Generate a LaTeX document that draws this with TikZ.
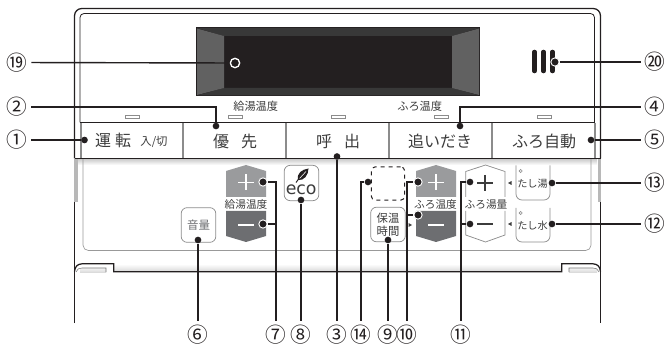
\documentclass[tikz,border=0pt]{standalone}
\usepackage{fontspec}
\newfontfamily\cjk{Noto Sans CJK JP}
\newfontfamily\ecofont{DejaVu Sans}
\usetikzlibrary{arrows.meta}
\definecolor{inkc}{HTML}{231F20}
\definecolor{textc}{HTML}{3C3C3C}
\definecolor{keyg}{HTML}{9A9B9D}
\definecolor{keyd}{HTML}{6D6E71}
\definecolor{edge}{HTML}{8C8C8C}
\tikzset{
  call/.style={inner sep=0pt,font=\cjk\fontsize{15.5pt}{15.5pt}\selectfont,text=inkc,circle,minimum size=12pt},
  wire/.style={draw=inkc,line width=1.05pt},
  blob/.style={circle,fill=inkc,inner sep=0pt,minimum size=5pt},
  ring/.style={circle,fill=inkc,draw=white,line width=0.7pt,inner sep=0pt,minimum size=6.2pt},
  openring/.style={circle,fill=inkc,draw=white,line width=1pt,inner sep=0pt,minimum size=7pt},
  mainkey/.style={inner sep=0pt,text=textc,font=\cjk\fontsize{12pt}{12pt}\selectfont},
  tiny/.style={inner sep=0pt,text=textc,font=\cjk\fontsize{8.4pt}{8.5pt}\selectfont},
  small/.style={inner sep=0pt,text=textc,font=\cjk\fontsize{8pt}{8.5pt}\selectfont},
  softkey/.style={draw=edge,line width=0.55pt,rounded corners=4.5pt,fill=white},
  led/.style={draw=edge,line width=0.5pt,fill=white},
  sep/.style={draw=edge,line width=1pt},
  body/.style={draw=inkc,line width=0.95pt},
  thinbody/.style={draw=inkc,line width=0.6pt},
}
\begin{document}
\begin{tikzpicture}[x=0.75pt,y=-0.75pt]
\useasboundingbox (0,0) rectangle (667,345);
% shaded bands
\shade[top color=black!22,bottom color=white] (78,158.5) rectangle (597,165);
\shade[top color=white,bottom color=black!14] (114,264) rectangle (562,271);
\shade[top color=black!4,bottom color=black!14] (80,268) rectangle (106,272);
\shade[top color=black!4,bottom color=black!14] (569,268) rectangle (597,272);
% lower panel
\draw[draw=black!40,line width=0.5pt,rounded corners=4pt] (83,158.5) -- (83,250.5) -- (591,250.5) -- (591,158.5);
% outer case
\draw[body] (74.5,323) -- (74.5,202);
\draw[body,rounded corners=5.5pt] (74.5,158.5) -- (74.5,8.5) -- (600.5,8.5) -- (600.5,158.5);
\draw[body] (600.5,202) -- (600.5,323);
\fill[black!28] (74,159) rectangle (78,202);
\fill[black!28] (597.5,159) rectangle (601,202);
\draw[thinbody,rounded corners=3pt] (80,122.5) -- (80,13.5) -- (594.5,13.5) -- (594.5,158);
\draw[thinbody] (80,122.5) -- (595,122.5);
\draw[body] (74.5,158.5) -- (600.5,158.5);
% hinges and lower edge
\draw[body] (74.5,271.5) .. controls (75,267) and (77,264) .. (82,263.8) -- (113.7,263.8) -- (113.7,271.7) -- (561.7,271.7) -- (561.7,263.8) -- (593,263.8) .. controls (598,264) and (600,267) .. (600.5,271.5);
\draw[draw=black!55,line width=0.4pt] (76,272) .. controls (77,269) and (79,268) .. (82,268) -- (106,268) -- (106,272);
\draw[draw=black!55,line width=0.4pt] (569,272) -- (569,268) -- (593,268) .. controls (596,268) and (598,269) .. (599,272);
% button separators
\foreach \x in {81,183,286,389,492,595}{\draw[sep] (\x,123) -- (\x,158);}
% display
\fill[inkc] (195.7,27) rectangle (480.3,96.5);
\fill[black!78] (197,28) -- (479,28) -- (452,36) -- (224,36) -- cycle;
\fill[black!78] (197,95.5) -- (479,95.5) -- (452,88) -- (224,88) -- cycle;
\fill[black!62] (197,28.5) -- (224,36) -- (224,88) -- (197,95) -- cycle;
\fill[black!62] (479,28.5) -- (452,36) -- (452,88) -- (479,95) -- cycle;
% speaker
\foreach \x in {534.5,543.5,552.5}{\draw[inkc,line width=3.4pt,line cap=round] (\x,52) -- (\x,71);}
% LEDs
\foreach \x in {125,228,331,434,537}{\draw[led] (\x,115.3) rectangle ++(14,3.2);}
\node[tiny] (tkyu) at (255.7,106) {給湯温度};
\node[tiny] (tfuro) at (419.7,106) {ふろ温度};
% main keys
\node[mainkey] (kunten) at (113,140.5) {運\hspace{3pt}転};
\node[inner sep=0pt,text=textc,font=\cjk\fontsize{8.5pt}{9pt}\selectfont] (knyu) at (154,141.5) {入/切};
\node[mainkey] (kyusen) at (235,141) {優\hspace{9pt}先};
\node[mainkey] (kyobi) at (338,141) {呼\hspace{9pt}出};
\node[mainkey] (koi) at (440,141) {追いだき};
\node[mainkey] (kauto) at (544,141) {ふろ自動};
% temperature keys
\fill[keyg] (226,171) -- (246,165) -- (266,171) -- (266,197) -- (226,197) -- cycle;
\fill[keyd] (226,211) -- (266,211) -- (266,236) -- (246,242) -- (226,236) -- cycle;
\fill[keyg] (416,171) -- (436,165) -- (456,171) -- (456,197) -- (416,197) -- cycle;
\fill[keyd] (416,211) -- (456,211) -- (456,236) -- (436,242) -- (416,236) -- cycle;
\foreach \x in {246,436}{
  \draw[white,line width=1.1pt] (\x-8,182.5) -- (\x+8,182.5) (\x,174.5) -- (\x,190.5);
  \draw[white,line width=1.1pt] (\x-8,225) -- (\x+8,225);
}
\node[small] (lkyu) at (246,204) {給湯温度};
\node[small] (lfuro) at (435.5,204) {ふろ温度};
\node[small] (lyu) at (486,204) {ふろ湯量};
% outlined volume keys
\draw[draw=edge,line width=0.55pt] (465.7,197) -- (465.7,171.5) -- (485.5,165) -- (505,171.5) -- (505,197);
\draw[draw=edge,line width=0.55pt] (465.7,211) -- (465.7,235) -- (485.5,242) -- (505,235) -- (505,211);
\draw[textc,line width=1.1pt] (477,183) -- (493,183) (485,175) -- (485,191);
\draw[textc,line width=1.1pt] (477,224) -- (493,224);
% small triangles
\fill[textc] (408.5,223) -- (412,225) -- (408.5,227) -- cycle;
\fill[textc] (511.5,181) -- (508,183) -- (511.5,185) -- cycle;
\fill[textc] (511.5,222) -- (508,224) -- (511.5,226) -- cycle;
% soft keys
\node[softkey,minimum width=26pt,minimum height=26pt,inner sep=0pt,text=keyd,font=\cjk\fontsize{8.6pt}{8.6pt}\selectfont] (kvol) at (198.5,225) {音量};
\node[softkey,minimum width=26pt,minimum height=26.5pt,inner sep=0pt] (keco) at (301.5,183) {};
\node[anchor=base,inner sep=0pt,text=textc,font=\ecofont\fontsize{13pt}{13pt}\selectfont] (teco) at (301.2,194.3) {eco};
\fill[inkc] (298,180) .. controls (296.5,173) and (302,169.5) .. (308.5,168.5) .. controls (308.5,175) and (304,181) .. (298,180) -- cycle;
\draw[white,line width=0.4pt] (299.5,178.5) -- (306,171.5);
\draw[inkc,line width=0.7pt] (296,182.5) -- (299,178.5);
\node[draw=inkc,dashed,line width=0.75pt,rounded corners=3pt,minimum width=25pt,minimum height=25pt,inner sep=0pt] (kdash) at (388,183.5) {};
\node[softkey,minimum width=26pt,minimum height=26pt,inner sep=0pt,align=center,text=textc,font=\cjk\fontsize{8.5pt}{10pt}\selectfont] (khon) at (388,224.5) {保温\\時間};
% add-water keys
\draw[draw=edge,line width=0.55pt,rounded corners=4.5pt] (516,165.5) -- (516,200) -- (550,200) -- (550,165.5);
\draw[draw=edge,line width=0.55pt,rounded corners=4.5pt] (516,208) -- (516,242) -- (550,242) -- (550,208);
\draw[draw=edge,line width=0.45pt] (520.7,171) circle[radius=1.6] (520.7,213) circle[radius=1.6];
\node[inner sep=0pt,text=textc,font=\cjk\fontsize{7.6pt}{8pt}\selectfont] (ktu) at (532.5,184) {たし湯};
\node[inner sep=0pt,text=textc,font=\cjk\fontsize{7.6pt}{8pt}\selectfont] (ktm) at (532.5,226) {たし水};
% callout labels
\node[call] (n19) at (17,62.5) {⑲};
\node[call] (n2) at (17,107) {②};
\node[call] (n1) at (17,140) {①};
\node[call] (n20) at (655,62) {⑳};
\node[call] (n4) at (655,107) {④};
\node[call] (n5) at (655,140) {⑤};
\node[call] (n13) at (655,183) {⑬};
\node[call] (n12) at (655,224) {⑫};
\node[call] (n6) at (198,335) {⑥};
\node[call] (n7) at (276,335) {⑦};
\node[call] (n8) at (301,335) {⑧};
\node[call] (n3) at (337,335) {③};
\node[call] (n14) at (361,335) {⑭};
\node[call] (n9) at (388,335) {⑨};
\node[call] (n10) at (407,335) {⑩};
\node[call] (n11) at (461,335) {⑪};
% callout ends
\node[openring] (d19) at (235,63) {};
\node[blob] (d2) at (216,126) {};
\node[blob] (d1) at (84.5,140) {};
\node[blob] (d3) at (337,156.5) {};
\node[blob] (d4) at (460,126) {};
\node[blob] (d5) at (591,140) {};
\node[ring] (d20) at (555,62) {};
\node[blob] (d13) at (552,183) {};
\node[blob] (d12) at (552,224) {};
\node[blob] (d6) at (198,240) {};
\node[ring] (d7a) at (263,182) {};
\node[ring] (d7b) at (263,224) {};
\node[blob] (d8) at (301,200) {};
\node[blob] (d14) at (368,182) {};
\node[blob] (d9) at (388,240) {};
\node[ring] (d10a) at (418,182) {};
\node[ring] (d10b) at (418,215) {};
\node[blob] (d11a) at (470,182) {};
\node[blob] (d11b) at (470,224) {};
% connectors
\draw[wire] (n19) -- (d19);
\draw[wire] (n2) -| (d2);
\draw[wire] (n1) -- (d1);
\draw[wire] (n20) -- (d20);
\draw[wire] (n4) -| (d4);
\draw[wire] (n5) -- (d5);
\draw[wire] (n13) -- (d13);
\draw[wire] (n12) -- (d12);
\draw[wire] (n6) -- (d6);
\draw[wire] (n7) |- (d7a);
\draw[wire] (n7) |- (d7b);
\draw[wire] (n8) -- (d8);
\draw[wire] (n3) -- (d3);
\draw[wire] (n14) |- (d14);
\draw[wire] (n9) -- (d9);
\draw[wire] (n10) |- (d10a);
\draw[wire] (n10) |- (d10b);
\draw[wire] (n11) |- (d11a);
\draw[wire] (n11) |- (d11b);
\end{tikzpicture}
\end{document}
